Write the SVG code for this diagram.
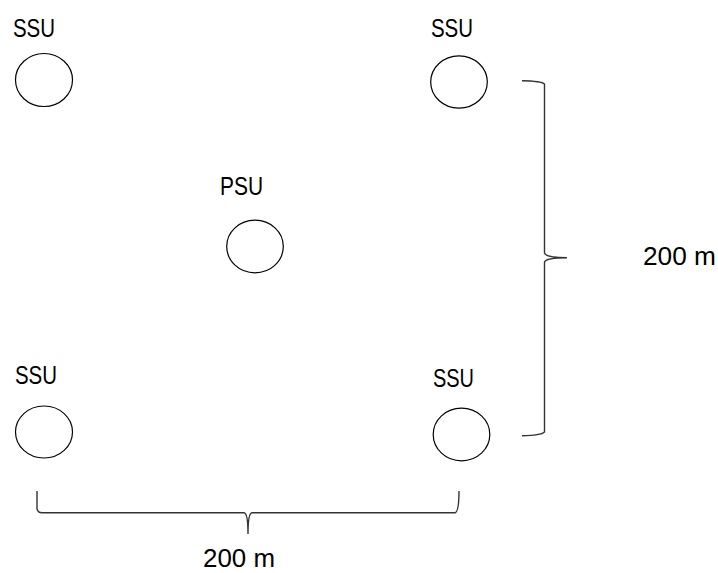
<svg xmlns="http://www.w3.org/2000/svg" width="718" height="573" viewBox="0 0 718 573">
<style>
.u{fill:none;stroke:#000;stroke-width:1.2}
.b{fill:none;stroke:#333;stroke-width:1.4}
text{font-family:"Liberation Sans",Arial,sans-serif;font-size:25px;fill:#000}
</style>
<rect width="718" height="573" fill="#fff"/>
<g id="ssu-tl"><text x="13" y="37" textLength="42" lengthAdjust="spacingAndGlyphs">SSU</text><ellipse class="u" cx="44" cy="80" rx="28.5" ry="26.5"/></g>
<g id="ssu-tr"><text x="431" y="37" textLength="42" lengthAdjust="spacingAndGlyphs">SSU</text><ellipse class="u" cx="459" cy="82" rx="28.3" ry="26.2"/></g>
<g id="psu"><text x="220" y="195" textLength="43" lengthAdjust="spacingAndGlyphs">PSU</text><ellipse class="u" cx="255" cy="246.5" rx="28.3" ry="26.3"/></g>
<g id="ssu-bl"><text x="15" y="384" textLength="42" lengthAdjust="spacingAndGlyphs">SSU</text><ellipse class="u" cx="44" cy="432" rx="28.5" ry="26"/></g>
<g id="ssu-br"><text x="433" y="387" textLength="41" lengthAdjust="spacingAndGlyphs">SSU</text><ellipse class="u" cx="461.5" cy="434.5" rx="28.3" ry="26.3"/></g>
<g id="connectors">
<path class="b" d="M522,80.7 Q541,81 544.5,84 L544.5,253 Q546,257.7 567,257.7 Q546,257.7 544.5,262 L544.5,432 Q541,435.5 522,435.7"/>
<path class="b" d="M37,491 L37,509 Q38,512.7 42,512.7 L244,512.7 Q248,513 248,534 Q248,513 252,512.7 L455,512.7 Q459,512 459,491"/>
</g>
<g id="label-right"><text x="643" y="265" textLength="73" lengthAdjust="spacingAndGlyphs">200 m</text></g>
<g id="label-bottom"><text x="203" y="567" textLength="72" lengthAdjust="spacingAndGlyphs">200 m</text></g>
</svg>
